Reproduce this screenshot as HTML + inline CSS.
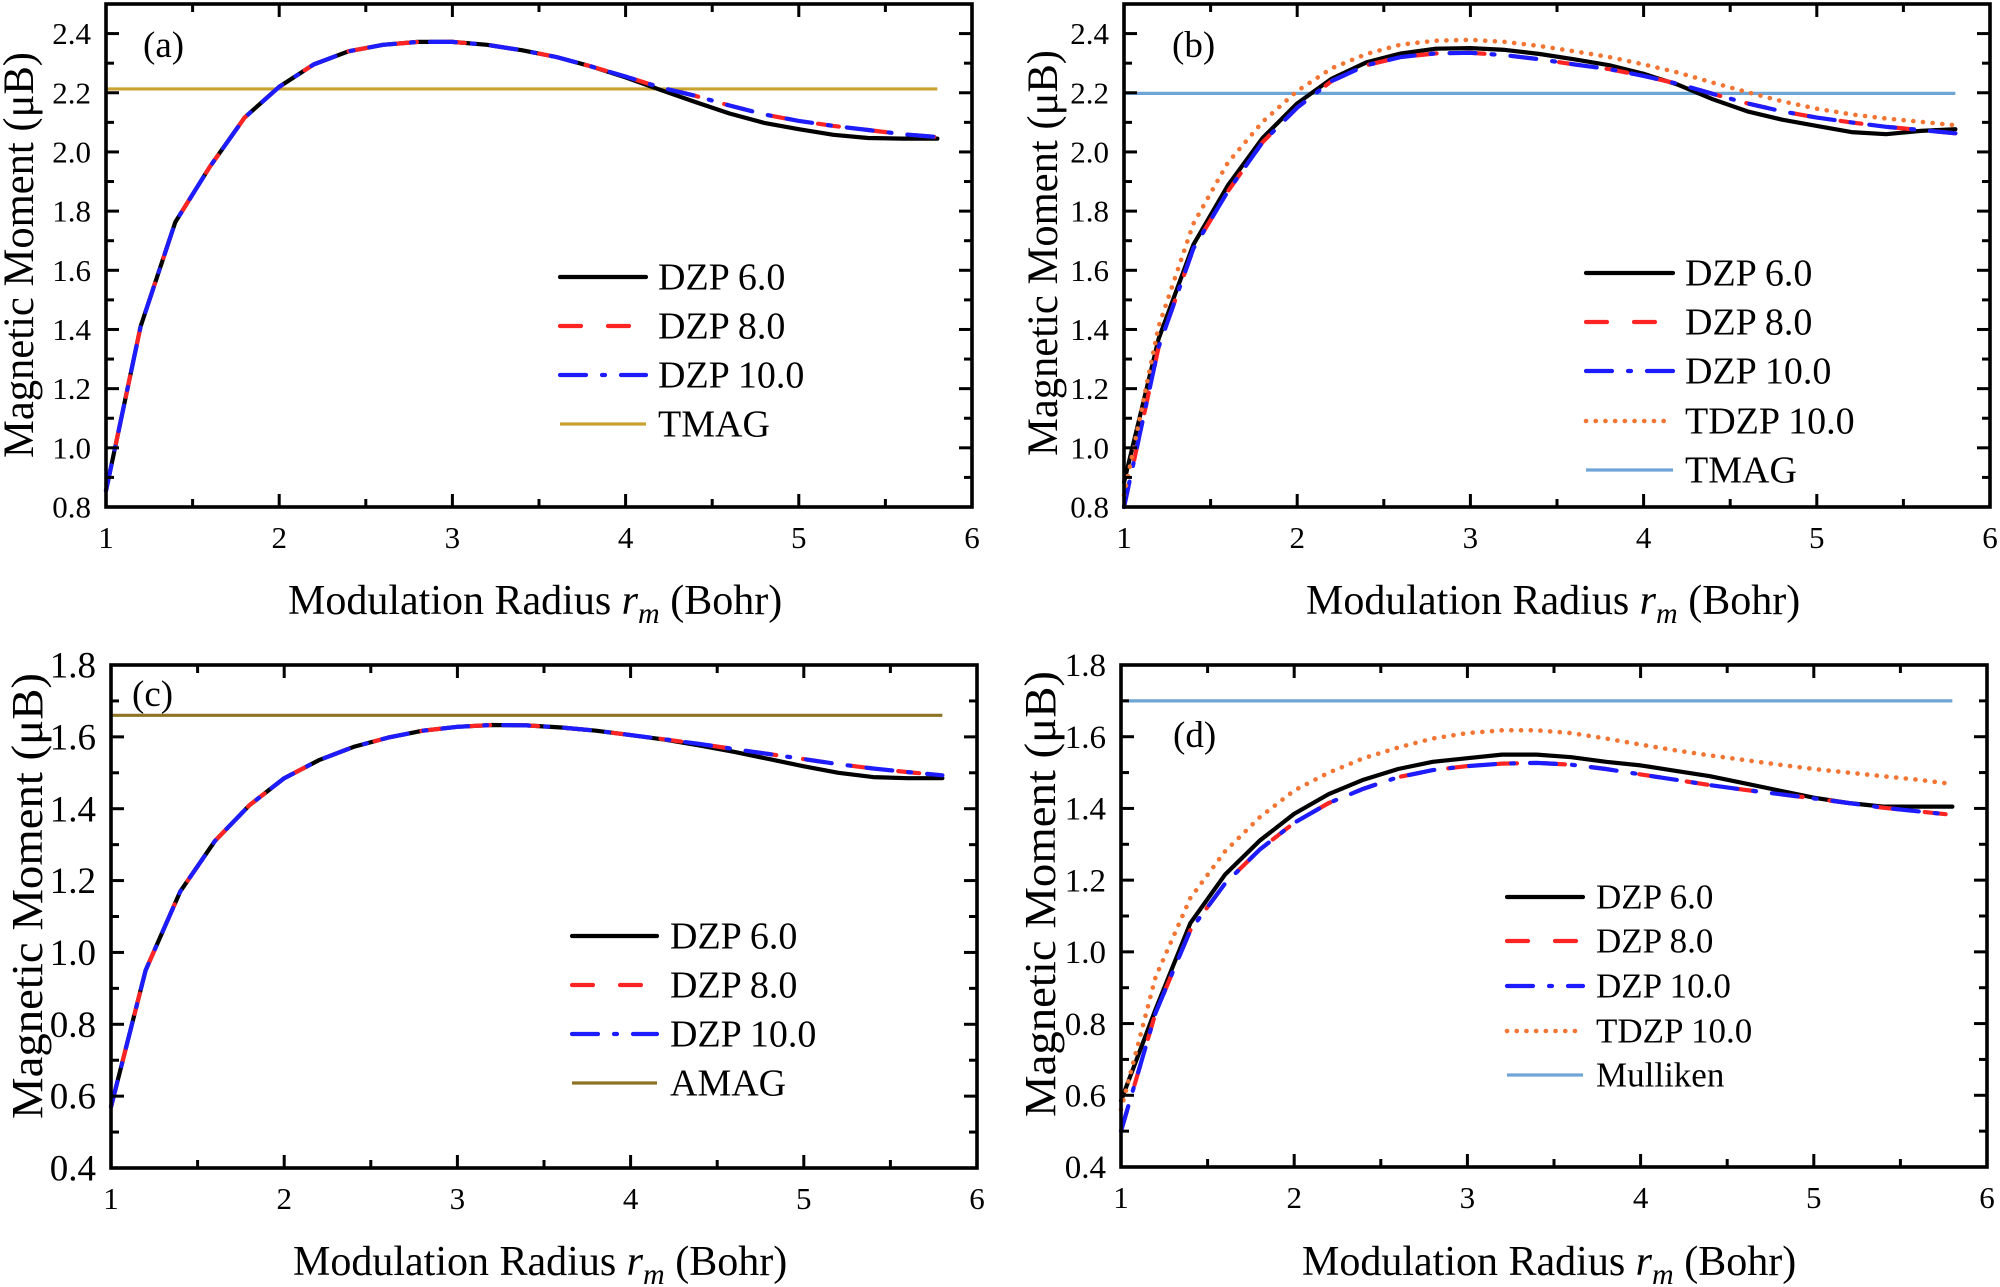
<!DOCTYPE html>
<html><head><meta charset="utf-8">
<style>
html,body{margin:0;padding:0;background:#fff;}
svg{display:block;}
text{font-family:"Liberation Serif","DejaVu Serif",serif;fill:#000;}
</style></head>
<body>
<svg id="s" xmlns="http://www.w3.org/2000/svg" width="2000" height="1287" viewBox="0 0 2000 1287"></svg>
<script>
var BLACK='#000000',RED='#ff2424',BLUE='#1c1cff',ORANGE='#f27533';
var xs=[];for(var i=0;i<25;i++)xs.push(1+i*0.2);
var panels=[
{x0:106,x1:972,y0:4,y1:507,ymin:0.8,ymax:2.5,tickFont:31,
 letter:'(a)',lx:143,ly:57,
 yl:{bx:33,cy:255,fs:43,len:406}, xl:{x:288,y:614},
 ref:{v:2.213,c:'#c9a232',w:3.2},
 series:[
  {c:BLACK,d:[0.855,1.41,1.763,1.95,2.116,2.22,2.296,2.34,2.362,2.372,2.372,2.362,2.344,2.321,2.289,2.252,2.21,2.169,2.13,2.098,2.077,2.058,2.047,2.045,2.045],t:'s'},
  {c:RED,d:[0.855,1.41,1.763,1.95,2.116,2.22,2.296,2.34,2.362,2.372,2.372,2.362,2.344,2.321,2.289,2.255,2.218,2.19,2.157,2.127,2.105,2.088,2.074,2.06,2.05],t:'d'},
  {c:BLUE,d:[0.855,1.41,1.763,1.95,2.116,2.22,2.296,2.34,2.362,2.372,2.372,2.362,2.344,2.321,2.289,2.255,2.218,2.19,2.157,2.127,2.105,2.088,2.074,2.06,2.05],t:'dd'}
 ],
 legend:{x1:558,x2:648,tx:658,fs:38,rows:[[277,'s',BLACK,'DZP 6.0'],[326,'d',RED,'DZP 8.0'],[375,'dd',BLUE,'DZP 10.0'],[424,'r','#c9a232','TMAG']]}
},
{x0:1124,x1:1990,y0:4,y1:507,ymin:0.8,ymax:2.5,tickFont:31,
 letter:'(b)',lx:1172,ly:57,
 yl:{bx:1057,cy:253,fs:43,len:406}, xl:{x:1306,y:614},
 ref:{v:2.198,c:'#6fa5d6',w:3.2},
 series:[
  {c:BLACK,d:[0.883,1.368,1.686,1.887,2.047,2.164,2.248,2.303,2.333,2.349,2.351,2.345,2.331,2.313,2.293,2.264,2.227,2.178,2.137,2.109,2.088,2.067,2.06,2.071,2.077],t:'s'},
  {c:RED,d:[0.80,1.34,1.673,1.867,2.033,2.15,2.24,2.293,2.321,2.333,2.335,2.327,2.313,2.296,2.28,2.257,2.23,2.196,2.164,2.137,2.116,2.1,2.085,2.074,2.063],t:'d'},
  {c:BLUE,d:[0.80,1.34,1.673,1.867,2.033,2.15,2.24,2.293,2.321,2.333,2.335,2.327,2.313,2.296,2.28,2.257,2.23,2.196,2.164,2.137,2.116,2.1,2.085,2.074,2.063],t:'dd'},
  {c:ORANGE,d:[0.84,1.41,1.757,1.964,2.102,2.206,2.283,2.331,2.363,2.376,2.379,2.372,2.358,2.34,2.321,2.296,2.268,2.234,2.202,2.171,2.146,2.127,2.113,2.102,2.09],t:'o'}
 ],
 legend:{x1:1584,x2:1675,tx:1685,fs:38,rows:[[273,'s',BLACK,'DZP 6.0'],[322,'d',RED,'DZP 8.0'],[371,'dd',BLUE,'DZP 10.0'],[421,'o',ORANGE,'TDZP 10.0'],[470,'r','#6fa5d6','TMAG']]}
},
{x0:111,x1:977,y0:665,y1:1168,ymin:0.4,ymax:1.8,tickFont:37,
 letter:'(c)',lx:132,ly:706,
 yl:{bx:42,cy:896,fs:44,len:446}, xl:{x:293,y:1275},
 ref:{v:1.66,c:'#8c7424',w:3.2},
 series:[
  {c:BLACK,d:[0.57,0.95,1.17,1.31,1.41,1.485,1.535,1.572,1.598,1.617,1.628,1.633,1.632,1.626,1.617,1.605,1.592,1.576,1.558,1.538,1.518,1.5,1.488,1.485,1.485],t:'s'},
  {c:RED,d:[0.57,0.95,1.17,1.31,1.41,1.485,1.535,1.572,1.598,1.617,1.628,1.633,1.632,1.626,1.617,1.605,1.593,1.58,1.566,1.552,1.538,1.524,1.512,1.502,1.493],t:'d'},
  {c:BLUE,d:[0.57,0.95,1.17,1.31,1.41,1.485,1.535,1.572,1.598,1.617,1.628,1.633,1.632,1.626,1.617,1.605,1.593,1.58,1.566,1.552,1.538,1.524,1.512,1.502,1.493],t:'dd'}
 ],
 legend:{x1:570,x2:659,tx:670,fs:38,rows:[[936,'s',BLACK,'DZP 6.0'],[985,'d',RED,'DZP 8.0'],[1034,'dd',BLUE,'DZP 10.0'],[1083,'r','#8c7424','AMAG']]}
},
{x0:1121,x1:1987,y0:665,y1:1167,ymin:0.4,ymax:1.8,tickFont:33,
 letter:'(d)',lx:1173,ly:747,
 yl:{bx:1055,cy:894,fs:44,len:446}, xl:{x:1302,y:1275},
 ref:{v:1.70,c:'#6fa5d6',w:3.2},
 series:[
  {c:BLACK,d:[0.585,0.84,1.08,1.215,1.31,1.385,1.44,1.48,1.51,1.53,1.54,1.55,1.55,1.543,1.53,1.52,1.505,1.49,1.47,1.45,1.43,1.415,1.405,1.405,1.405],t:'s'},
  {c:RED,d:[0.5,0.83,1.06,1.19,1.285,1.36,1.415,1.455,1.487,1.507,1.518,1.525,1.527,1.522,1.51,1.495,1.48,1.465,1.452,1.44,1.428,1.415,1.402,1.392,1.382],t:'d'},
  {c:BLUE,d:[0.5,0.83,1.06,1.19,1.285,1.36,1.415,1.455,1.487,1.507,1.518,1.525,1.527,1.522,1.51,1.495,1.48,1.465,1.452,1.44,1.428,1.415,1.402,1.392,1.382],t:'dd'},
  {c:ORANGE,d:[0.56,0.93,1.15,1.28,1.375,1.45,1.5,1.54,1.57,1.595,1.61,1.618,1.618,1.61,1.595,1.578,1.562,1.548,1.535,1.522,1.51,1.5,1.49,1.48,1.468],t:'o'}
 ],
 legend:{x1:1505,x2:1585,tx:1596,fs:35,rows:[[897,'s',BLACK,'DZP 6.0'],[941,'d',RED,'DZP 8.0'],[986,'dd',BLUE,'DZP 10.0'],[1031,'o',ORANGE,'TDZP 10.0'],[1075,'r','#6fa5d6','Mulliken']]}
}
];
function style(t,c){
  if(t==='s')return 'stroke="'+c+'" stroke-width="4.2" fill="none" stroke-linejoin="round" stroke-linecap="round"';
  if(t==='d')return 'stroke="'+c+'" stroke-width="4.2" fill="none" stroke-linejoin="round" stroke-linecap="round" stroke-dasharray="21 27"';
  if(t==='dd')return 'stroke="'+c+'" stroke-width="4.2" fill="none" stroke-linejoin="round" stroke-linecap="round" stroke-dasharray="26 16 3 16"';
  if(t==='o')return 'stroke="'+c+'" stroke-width="4.6" fill="none" stroke-linecap="round" stroke-dasharray="0.1 9.6"';
  return 'stroke="'+c+'" stroke-width="3.2" fill="none"';
}
var h='';
panels.forEach(function(p){
  function fx(x){return p.x0+(x-1)/5*(p.x1-p.x0);}
  function fy(v){return p.y1-(v-p.ymin)/(p.ymax-p.ymin)*(p.y1-p.y0);}
  h+='<line x1="'+p.x0+'" x2="'+fx(5.8)+'" y1="'+fy(p.ref.v)+'" y2="'+fy(p.ref.v)+'" stroke="'+p.ref.c+'" stroke-width="'+p.ref.w+'"/>';
  p.series.forEach(function(s){
    var pts=s.d.map(function(v,i){return fx(xs[i]).toFixed(1)+','+fy(v).toFixed(1);}).join(' ');
    h+='<polyline points="'+pts+'" '+style(s.t,s.c)+'/>';
  });
  h+='<rect x="'+p.x0+'" y="'+p.y0+'" width="'+(p.x1-p.x0)+'" height="'+(p.y1-p.y0)+'" fill="none" stroke="#000" stroke-width="3.6"/>';
  for(var k=0;k<=10;k++){
    var x=1+k*0.5, X=fx(x), L=(k%2===0)?13:8;
    h+='<line x1="'+X+'" x2="'+X+'" y1="'+p.y1+'" y2="'+(p.y1-L)+'" stroke="#000" stroke-width="3"/>';
    h+='<line x1="'+X+'" x2="'+X+'" y1="'+p.y0+'" y2="'+(p.y0+L)+'" stroke="#000" stroke-width="3"/>';
    if(k%2===0) h+='<text x="'+X+'" y="'+(p.y1+41)+'" font-size="31" text-anchor="middle">'+x+'</text>';
  }
  var n=Math.round((p.ymax-p.ymin)/0.1);
  for(var j=0;j<=n;j++){
    var v=p.ymin+j*0.1, Y=fy(v), maj=(j%2===0), L=maj?13:8;
    h+='<line x1="'+p.x0+'" x2="'+(p.x0+L)+'" y1="'+Y+'" y2="'+Y+'" stroke="#000" stroke-width="3"/>';
    h+='<line x1="'+p.x1+'" x2="'+(p.x1-L)+'" y1="'+Y+'" y2="'+Y+'" stroke="#000" stroke-width="3"/>';
    if(maj) h+='<text x="'+(p.x0-15)+'" y="'+(Y+p.tickFont*0.34)+'" font-size="'+p.tickFont+'" text-anchor="end">'+v.toFixed(1)+'</text>';
  }
  h+='<text x="'+p.lx+'" y="'+p.ly+'" font-size="37">'+p.letter+'</text>';
  h+='<text transform="translate('+p.yl.bx+','+p.yl.cy+') rotate(-90)" font-size="'+p.yl.fs+'" text-anchor="middle" textLength="'+p.yl.len+'" lengthAdjust="spacingAndGlyphs">Magnetic Moment (\u03bcB)</text>';
  h+='<text x="'+p.xl.x+'" y="'+p.xl.y+'" font-size="42">Modulation Radius <tspan font-style="italic">r</tspan><tspan font-style="italic" font-size="30" dy="9">m</tspan><tspan dy="-9"> (Bohr)</tspan></text>';
  var lg=p.legend;
  lg.rows.forEach(function(r){
    h+='<line x1="'+(lg.x1+2)+'" x2="'+(lg.x2-2)+'" y1="'+r[0]+'" y2="'+r[0]+'" '+style(r[1],r[2])+'/>';
    h+='<text x="'+lg.tx+'" y="'+(r[0]+lg.fs*0.33)+'" font-size="'+lg.fs+'">'+r[3]+'</text>';
  });
});
document.getElementById('s').innerHTML=h;
</script>
</body></html>
